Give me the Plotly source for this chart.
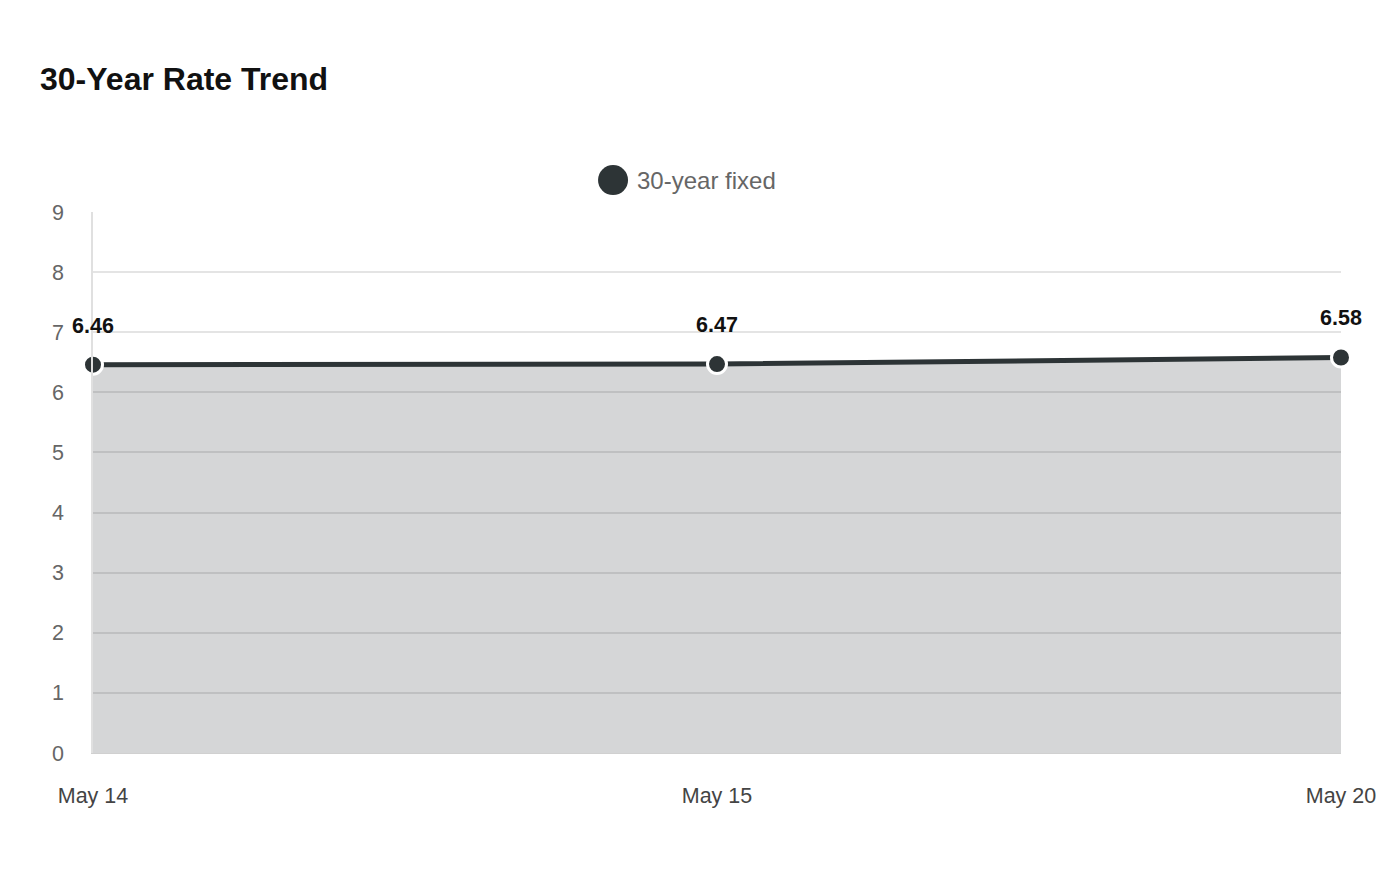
import plotly.graph_objects as go

# data
dates = ["May 14", "May 15", "May 20"]
rates = [6.46, 6.47, 6.58]
series_name = "30-year fixed"
y_ticks = [0, 1, 2, 3, 4, 5, 6, 7, 8, 9]

line_col = "#2d3436"
font_family = "Liberation Sans, Arial, sans-serif"

fig = go.Figure()
fig.add_trace(go.Scatter(
    x=dates, y=rates, name=series_name,
    mode="lines+markers",
    line=dict(color=line_col, width=5),
    marker=dict(size=19, color=line_col, line=dict(color="white", width=3)),
    fill="tozeroy", fillcolor="rgba(45,52,54,0.2)",
    cliponaxis=False, showlegend=False,
))

# value labels above points
for d, r in zip(dates, rates):
    fig.add_annotation(
        x=d, y=r, text=f"<b>{r:.2f}</b>", showarrow=False,
        yshift=39, font=dict(size=21.5, color="#111"),
    )

# custom legend (big circle + label)
fig.add_shape(
    type="circle", xref="paper", yref="paper",
    xsizemode="pixel", ysizemode="pixel",
    xanchor=0.4167, yanchor=1.059,
    x0=-15, x1=15, y0=-15, y1=15,
    fillcolor=line_col, line=dict(width=0),
)
fig.add_annotation(
    x=0.4344, y=1.059, xref="paper", yref="paper",
    text=series_name, showarrow=False, xanchor="left", yanchor="middle",
    font=dict(size=24, color="#666"),
)

fig.update_layout(
    width=1400, height=880,
    paper_bgcolor="white", plot_bgcolor="white",
    font=dict(family=font_family, color="#666"),
    margin=dict(l=85, r=67, t=204, b=135),
    title=dict(
        text="<b>30-Year Rate Trend</b>", x=32 / 1400, xanchor="left",
        y=1 - 71 / 880, yanchor="middle",
        font=dict(size=32, color="#111"),
    ),
    xaxis=dict(
        type="category", range=[0, len(dates) - 1],
        showgrid=False, showline=True, linecolor="#d0d0d0", linewidth=1,
        ticks="outside", ticklen=23, tickcolor="rgba(0,0,0,0)",
        tickfont=dict(size=21.5, color="#444"), zeroline=False,
    ),
    yaxis=dict(
        range=[0, 9], tickvals=y_ticks,
        showgrid=True, gridcolor="#e4e4e4", gridwidth=1.5,
        showline=True, linecolor="#e0e0e0", linewidth=1.5,
        ticks="outside", ticklen=23, tickcolor="rgba(0,0,0,0)",
        tickfont=dict(size=21.5, color="#666"), zeroline=False,
    ),
)

fig.write_html("out.html")
